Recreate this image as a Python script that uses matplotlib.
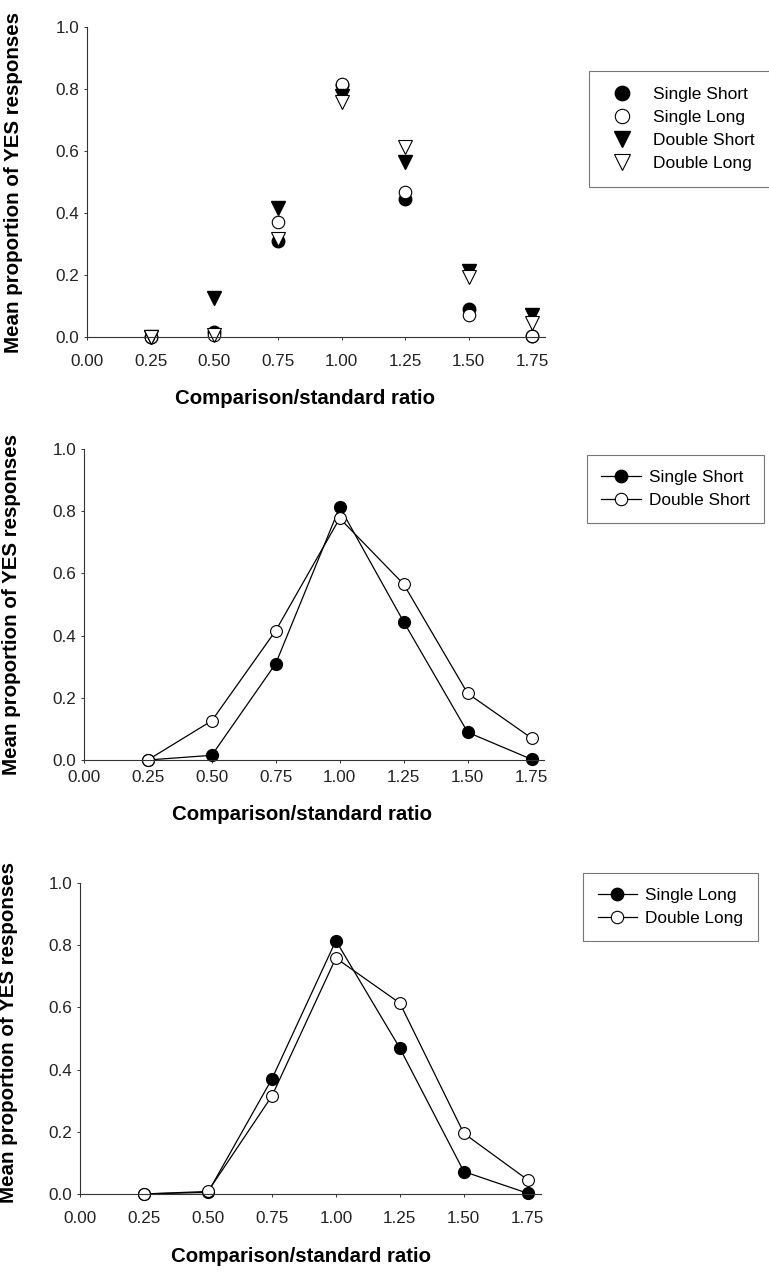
import matplotlib
matplotlib.use("Agg")
import matplotlib.pyplot as plt
from matplotlib.ticker import FormatStrFormatter

plt.rcParams["font.family"] = ["Liberation Sans", "DejaVu Sans"]

ratios = [0.25, 0.50, 0.75, 1.00, 1.25, 1.50, 1.75]
single_short = [0.0, 0.015, 0.31, 0.813, 0.444, 0.089, 0.002]
single_long = [0.0, 0.005, 0.37, 0.815, 0.469, 0.072, 0.002]
double_short = [0.0, 0.126, 0.416, 0.777, 0.565, 0.214, 0.070]
double_long = [0.0, 0.008, 0.315, 0.759, 0.614, 0.195, 0.045]

x_ticks = [0.00, 0.25, 0.50, 0.75, 1.00, 1.25, 1.50, 1.75]
y_ticks = [0.0, 0.2, 0.4, 0.6, 0.8, 1.0]
xlabel = "Comparison/standard ratio"
ylabel = "Mean proportion of YES responses"

fig = plt.figure(figsize=(7.69, 12.79), dpi=100)

axes_pos = [
    [0.113, 0.7365, 0.596, 0.2424],
    [0.109, 0.4058, 0.599, 0.2432],
    [0.104, 0.0665, 0.599, 0.2430],
]
legend_anchor = [(0.766, 0.9445), (0.763, 0.6443), (0.758, 0.3174)]
xlabel_xy = [(305, 399), (302, 815), (301, 1256)]
ylabel_x = [-0.1395, -0.137, -0.1345]
ylabel_y = [0.5, 0.5, 0.52]
xtick_pad = [9.5, 5, 9.5]


def style_axes(ax, i):
    ax.set_xlim(0, 1.8)
    ax.set_ylim(0, 1.0)
    ax.set_xticks(x_ticks)
    ax.set_yticks(y_ticks)
    ax.xaxis.set_major_formatter(FormatStrFormatter("%.2f"))
    ax.yaxis.set_major_formatter(FormatStrFormatter("%.1f"))
    for s in ["top", "right"]:
        ax.spines[s].set_visible(False)
    for s in ["left", "bottom"]:
        ax.spines[s].set_linewidth(0.8)
        ax.spines[s].set_color("#333333")
    ax.tick_params(direction="out", length=2.5, width=0.7, labelsize=12.3,
                   colors="#333333", labelcolor="#222222")
    ax.tick_params(axis="x", pad=xtick_pad[i])
    ax.tick_params(axis="y", pad=3)
    ax.set_ylabel(ylabel, fontsize=14.8, fontweight="bold")
    ax.yaxis.set_label_coords(ylabel_x[i], ylabel_y[i])
    x, y = xlabel_xy[i]
    fig.text(x / 769, 1 - y / 1279, xlabel, fontsize=14.7,
             fontweight="bold", ha="center", va="center")


def add_legend(ax, anchor, n):
    if n == 4:
        leg = ax.legend(loc="upper left", bbox_to_anchor=anchor,
                        bbox_transform=fig.transFigure, fontsize=12.5,
                        frameon=True, fancybox=False, borderpad=0.9,
                        labelspacing=0.46, handletextpad=0.85,
                        handlelength=1.95, borderaxespad=0, markerscale=1.15)
    else:
        leg = ax.legend(loc="upper left", bbox_to_anchor=anchor,
                        bbox_transform=fig.transFigure, fontsize=12.4,
                        frameon=True, fancybox=False, borderpad=0.85,
                        labelspacing=0.48, handletextpad=0.45,
                        handlelength=2.3, borderaxespad=0, markerscale=1.05)
    leg.get_frame().set_edgecolor("#555555")
    leg.get_frame().set_linewidth(0.8)
    return leg


# panel 1: all four conditions, markers only
ax1 = fig.add_axes(axes_pos[0])
ax1.plot(ratios, single_short, "o", ms=9, mfc="black", mec="black",
         label="Single Short", clip_on=False)
ax1.plot(ratios, single_long, "o", ms=9, mfc="white", mec="black",
         mew=0.8, label="Single Long", clip_on=False)
ax1.plot(ratios, double_short, "v", ms=10, mfc="black", mec="black",
         label="Double Short", clip_on=False)
ax1.plot(ratios, double_long, "v", ms=10, mfc="white", mec="black",
         mew=0.8, label="Double Long", clip_on=False)
style_axes(ax1, 0)
add_legend(ax1, legend_anchor[0], 4)

# panel 2: short durations
ax2 = fig.add_axes(axes_pos[1])
ax2.plot(ratios, single_short, "-o", color="black", lw=0.9, ms=8.5,
         mfc="black", mec="black", label="Single Short", clip_on=False)
ax2.plot(ratios, double_short, "-o", color="black", lw=0.9, ms=8.5,
         mfc="white", mec="black", mew=0.8, label="Double Short", clip_on=False)
style_axes(ax2, 1)
add_legend(ax2, legend_anchor[1], 2)

# panel 3: long durations
ax3 = fig.add_axes(axes_pos[2])
ax3.plot(ratios, single_long, "-o", color="black", lw=0.9, ms=8.5,
         mfc="black", mec="black", label="Single Long", clip_on=False)
ax3.plot(ratios, double_long, "-o", color="black", lw=0.9, ms=8.5,
         mfc="white", mec="black", mew=0.8, label="Double Long", clip_on=False)
style_axes(ax3, 2)
add_legend(ax3, legend_anchor[2], 2)

fig.savefig("out.png", dpi=100)
